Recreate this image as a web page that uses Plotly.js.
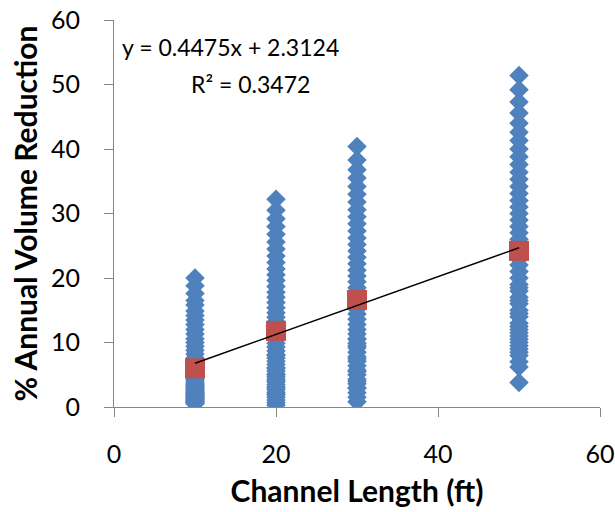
<!DOCTYPE html>
<html>
<head>
<meta charset="utf-8">
<script src="https://cdn.plot.ly/plotly-3.0.1.min.js"></script>
<style>html,body{margin:0;padding:0;background:#fff;}#chart{width:615px;height:512px;}</style>
</head>
<body>
<div id="chart"></div>
<script>
// Channel lengths (ft)
const lengths = [10, 20, 30, 50];

// % annual volume reduction per channel length
const y10 = [20.0, 18.8, 17.6, 16.5, 15.8, 14.9, 14.2, 13.5, 12.8, 12.0, 11.3, 10.6, 10.0, 9.4, 8.8, 8.2, 7.6, 7.1, 6.6, 6.1, 5.7, 5.3, 4.9, 4.5, 4.1, 3.8, 3.5, 3.2, 2.9, 2.6, 2.3, 2.1, 1.9, 1.7, 1.5, 1.3, 1.1, 0.9, 0.7, 0.5, 3.0, 2.4, 1.8, 1.2, 4.3, 3.6, 2.7, 2.0, 1.4, 0.8, 1.0, 0.6, 2.2, 1.6, 3.3];
const y20 = [32.2, 30.5, 29.2, 28.0, 26.8, 25.6, 24.5, 23.4, 22.4, 21.4, 20.5, 19.6, 18.7, 17.8, 17.0, 16.2, 15.4, 14.6, 13.9, 13.2, 12.5, 11.8, 11.1, 10.5, 9.9, 9.3, 8.7, 8.1, 7.6, 7.1, 6.6, 6.1, 5.6, 5.1, 4.7, 4.3, 3.9, 3.5, 3.1, 2.7, 2.3, 1.9, 1.5, 1.1, 0.7, 0.3, 2.0, 4.0, 6.0, 8.0, 3.0, 5.0];
const y30 = [40.4, 38.3, 36.8, 35.5, 34.2, 33.0, 31.8, 30.6, 29.5, 28.4, 27.3, 26.2, 25.2, 24.2, 23.2, 22.2, 21.2, 20.3, 19.4, 18.5, 17.6, 16.8, 16.0, 15.2, 14.4, 13.6, 12.8, 12.0, 11.3, 10.6, 9.9, 9.2, 8.5, 7.8, 7.1, 6.4, 5.7, 5.0, 4.3, 3.6, 2.9, 2.2, 1.5, 0.8, 3.0, 5.5, 7.5, 9.5, 10.5, 4.0];
const y50 = [51.4, 49.2, 47.3, 45.6, 44.0, 42.6, 41.3, 40.0, 38.8, 37.6, 36.4, 35.3, 34.2, 33.1, 32.0, 31.0, 30.0, 29.0, 28.0, 27.0, 26.0, 25.0, 24.0, 23.0, 22.0, 21.0, 20.0, 19.0, 18.0, 17.0, 16.0, 15.0, 14.0, 13.0, 12.0, 11.0, 10.0, 9.0, 8.0, 7.0, 6.2, 3.8, 10.5, 12.5, 14.5, 8.5, 16.5, 18.5, 9.5, 11.5];

// Mean per channel length (red squares)
const means = [6.0, 11.8, 16.6, 24.2];

// Linear trendline coefficients shown on chart
const slope = 0.4475;
const intercept = 2.3124;
const rSquared = 0.3472;
const trendRange = [10, 50];

const xTicks = [0, 20, 40, 60];
const yTicks = [0, 10, 20, 30, 40, 50, 60];

const groups = [y10, y20, y30, y50];
const scatterX = [], scatterY = [];
groups.forEach((g, i) => g.forEach(v => { scatterX.push(lengths[i]); scatterY.push(v); }));

const FONT = 'Lato, "Open Sans", sans-serif';

const traces = [
  {
    x: scatterX, y: scatterY, type: 'scatter', mode: 'markers',
    marker: {symbol: 'diamond', size: 15, color: '#4F81BD'},
    hoverinfo: 'x+y', showlegend: false
  },
  {
    x: lengths, y: means, type: 'scatter', mode: 'markers',
    marker: {symbol: 'square', size: 20, color: '#C0504D'},
    showlegend: false
  },
  {
    x: trendRange, y: trendRange.map(x => slope * x + intercept),
    type: 'scatter', mode: 'lines',
    line: {color: '#000000', width: 1.5},
    showlegend: false
  }
];

const layout = {
  width: 615, height: 512,
  margin: {l: 114, r: 15, t: 20, b: 105},
  paper_bgcolor: '#ffffff', plot_bgcolor: '#ffffff',
  font: {family: FONT, color: '#000000'},
  xaxis: {
    range: [0, 60], tickvals: xTicks, ticktext: xTicks.map(String),
    showgrid: false, zeroline: false, showline: true, linecolor: '#868686', linewidth: 1,
    ticks: 'outside', ticklen: 9, tickcolor: '#868686', ticklabelstandoff: 16,
    tickfont: {size: 25, family: FONT},
    title: {text: '<b>Channel Length (ft)</b>', font: {size: 30, family: FONT}, standoff: 13}
  },
  yaxis: {
    range: [0, 60], tickvals: yTicks, ticktext: yTicks.map(String),
    showgrid: false, zeroline: false, showline: true, linecolor: '#868686', linewidth: 1,
    ticks: 'outside', ticklen: 9, tickcolor: '#868686', ticklabelstandoff: 19,
    tickfont: {size: 25, family: FONT},
    title: {text: '<b>% Annual Volume Reduction</b>', font: {size: 30, family: FONT}, standoff: 4}
  },
  annotations: [
    {
      xref: 'paper', yref: 'paper', x: (230 - 114) / 486, y: (407 - 47) / 387, xanchor: 'center', yanchor: 'middle',
      showarrow: false, text: 'y = ' + slope + 'x + ' + intercept,
      font: {size: 23, family: FONT, color: '#000000'}
    },
    {
      xref: 'paper', yref: 'paper', x: (250 - 114) / 486, y: (407 - 84) / 387, xanchor: 'center', yanchor: 'middle',
      showarrow: false, text: 'R² = ' + rSquared,
      font: {size: 23, family: FONT, color: '#000000'}
    }
  ]
};

Plotly.newPlot('chart', traces, layout, {displayModeBar: false, staticPlot: true});
</script>
</body>
</html>
